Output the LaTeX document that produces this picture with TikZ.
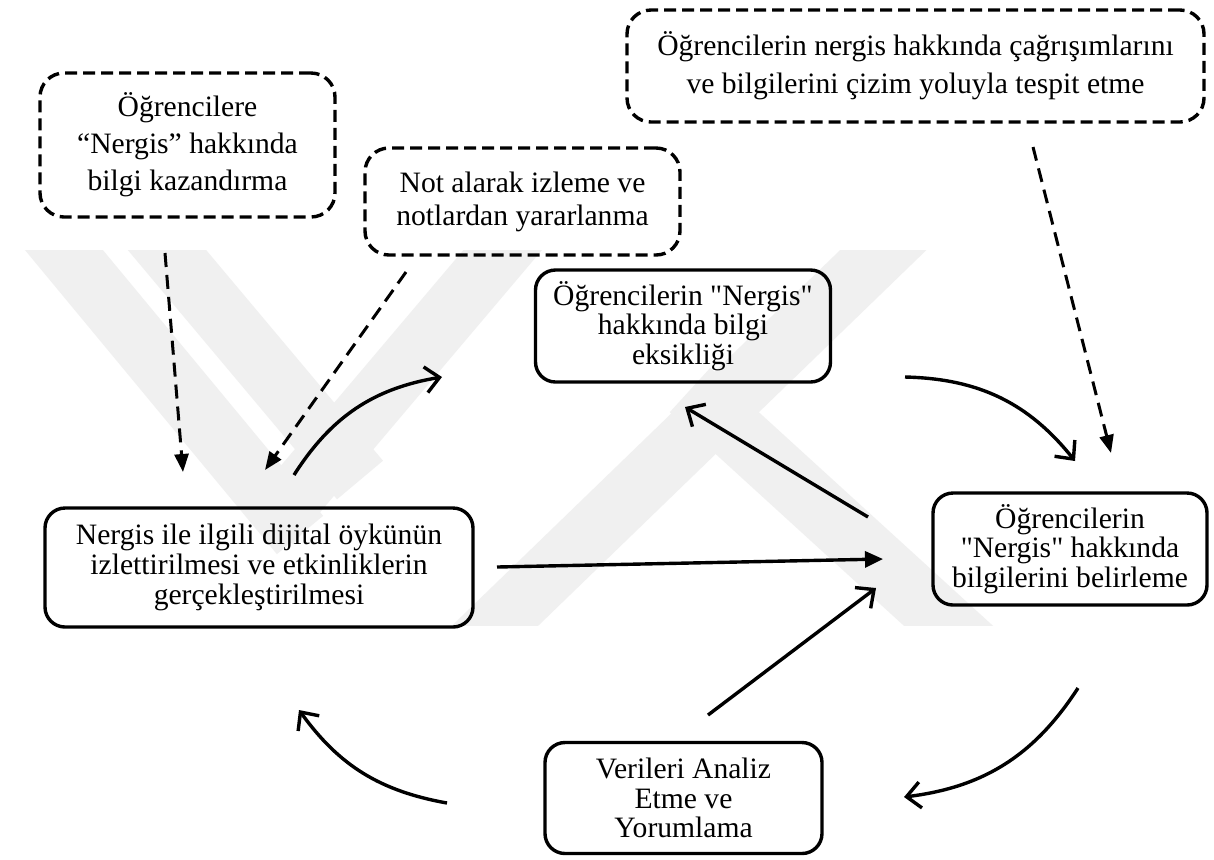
\documentclass[tikz,border=0pt]{standalone}
\usepackage{fontspec}
\setmainfont{Liberation Serif}
\usetikzlibrary{arrows.meta}

\newcommand{\sq}{\textquotedbl}

\tikzset{
  box/.style={draw, line width=1.7pt, rounded corners=10pt, align=center,
    inner sep=0pt, font=\fontsize{14.8}{14.8}\selectfont},
  dbox/.style={box, rounded corners=12pt, dash pattern=on 6pt off 3pt},
  flow/.style={line width=1.7pt, -{Straight Barb[length=7pt,width=13pt]}},
  push/.style={line width=1.7pt, -{Triangle[length=9pt,width=8pt]}},
  hint/.style={line width=1.5pt, dash pattern=on 7pt off 4pt,
    -{Triangle[length=9pt,width=7pt]}},
  wmband/.style={line width=30pt, black!6},
}

\begin{document}
\begin{tikzpicture}[x=0.5pt, y=0.5pt]
  \useasboundingbox (0,0) rectangle (1214,-859);
  \fill[white] (0,0) rectangle (1214,-859);

  % faint logo stripes in the background
  \begin{scope}
    \clip (0,-250) rectangle (1214,-625);
    \draw[wmband] (20,-197) -- (300,-535);
    \draw[wmband] (125,-200) -- (360,-480);
    \draw[wmband] (545,-200) -- (270,-525);
    \draw[wmband] (935,-200) -- (470,-650);
    \draw[wmband] (690,-390) -- (975,-650);
  \end{scope}

  % boxes
  \node[dbox, minimum width=147.5pt, minimum height=72pt,
        font=\fontsize{14.8}{18.5}\selectfont] (kazan) at (187.5,-145)
    {Öğrencilere\\“Nergis” hakkında\\bilgi kazandırma};
  \node[dbox, minimum width=157.5pt, minimum height=53.5pt,
        font=\fontsize{14.8}{16.5}\selectfont] (notal) at (522.5,-201.5)
    {Not alarak izleme ve\\notlardan yararlanma};
  \node[dbox, minimum width=288.5pt, minimum height=56pt,
        font=\fontsize{14.8}{19}\selectfont] (cizim) at (915.5,-66)
    {Öğrencilerin nergis hakkında çağrışımlarını\\ve bilgilerini çizim yoluyla tespit etme};
  \node[box, minimum width=147.5pt, minimum height=56pt] (eksik) at (683,-326)
    {Öğrencilerin \sq Nergis\sq\\hakkında bilgi\\eksikliği};
  \node[box, minimum width=214pt, minimum height=59.5pt] (oyku) at (259,-567.5)
    {Nergis ile ilgili dijital öykünün\\izlettirilmesi ve etkinliklerin\\gerçekleştirilmesi};
  \node[box, minimum width=137pt, minimum height=56pt] (belir) at (1070,-549)
    {Öğrencilerin\\\sq Nergis\sq\ hakkında\\bilgilerini belirleme};
  \node[box, minimum width=138.5pt, minimum height=55.5pt] (analiz) at (683.5,-798)
    {Verileri Analiz\\Etme ve\\Yorumlama};

  % free ends of the connectors
  \coordinate (kazanA) at (165,-253);   \coordinate (kazanB) at (183,-472);
  \coordinate (notalA) at (406,-272);   \coordinate (notalB) at (265,-470);
  \coordinate (cizimA) at (1033,-147);  \coordinate (cizimB) at (1111,-453);
  \coordinate (oykuA) at (294,-475);    \coordinate (eksikB) at (442,-377);
  \coordinate (eksikA) at (905,-377);   \coordinate (belirB) at (1075,-461);
  \coordinate (belirA) at (868,-517);   \coordinate (eksikC) at (685,-407);
  \coordinate (oykuC) at (497,-567);    \coordinate (belirC) at (883,-559);
  \coordinate (analizA) at (708,-715);  \coordinate (belirD) at (876,-588);
  \coordinate (belirE) at (1078,-688);  \coordinate (analizB) at (904,-797);
  \coordinate (analizC) at (447,-803);  \coordinate (oykuD) at (299,-710);

  % dashed inputs
  \draw[hint] (kazanA) -- (kazanB);
  \draw[hint] (notalA) -- (notalB);
  \draw[hint] (cizimA) -- (cizimB);

  % cycle
  \draw[flow] (oykuA) to[bend left=24] (eksikB);
  \draw[flow] (eksikA) to[bend left=25] (belirB);
  \draw[flow] (belirA) -- (eksikC);
  \draw[push] (oykuC) -- (belirC);
  \draw[flow] (analizA) -- (belirD);
  \draw[flow] (belirE) to[bend left=25] (analizB);
  \draw[flow] (analizC) to[bend left=22] (oykuD);
\end{tikzpicture}
\end{document}
